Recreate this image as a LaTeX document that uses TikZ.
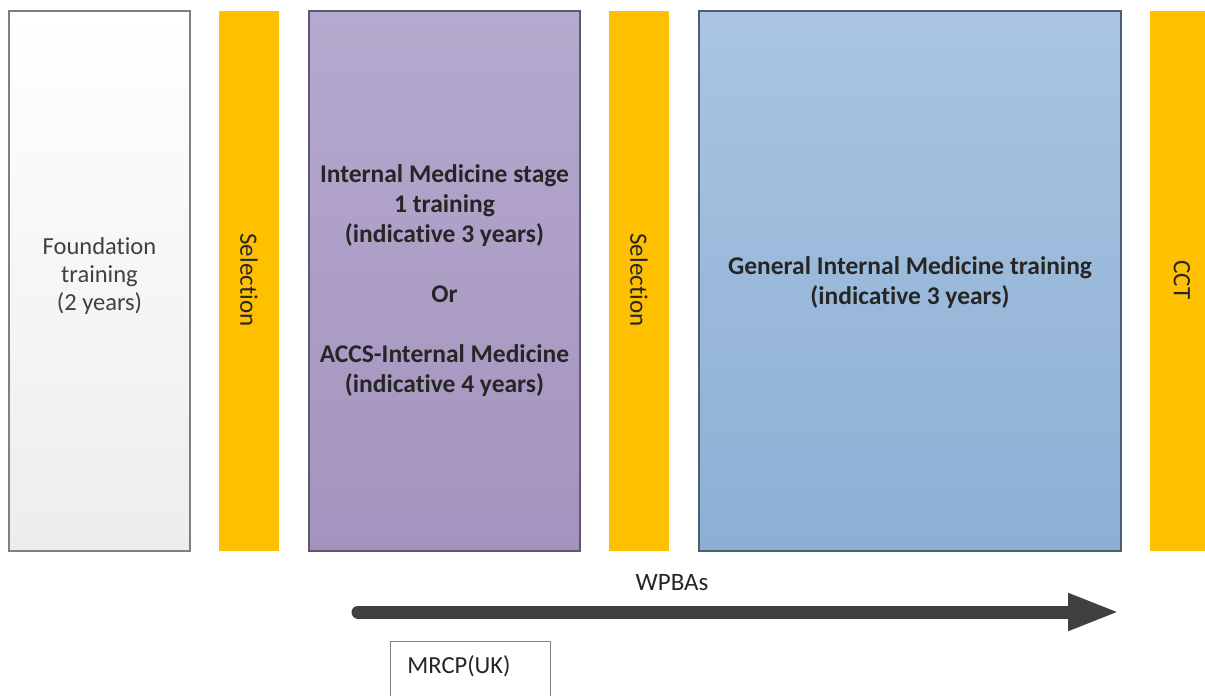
\documentclass[tikz,border=0pt]{standalone}
\usepackage{fontspec}
\setmainfont[Ligatures=NoCommon]{Carlito}
\usetikzlibrary{arrows.meta}
\definecolor{orangebar}{HTML}{FFC000}
\definecolor{fndtop}{HTML}{FFFFFF}
\definecolor{fndbot}{HTML}{EDEDED}
\definecolor{fndline}{HTML}{808080}
\definecolor{purtop}{HTML}{B5A9CE}
\definecolor{purbot}{HTML}{A493BE}
\definecolor{purline}{HTML}{5E5870}
\definecolor{blutop}{HTML}{A9C5E1}
\definecolor{blubot}{HTML}{8DAFD5}
\definecolor{bluline}{HTML}{4E5E72}
\definecolor{txt}{HTML}{262626}
\definecolor{arrowc}{HTML}{404040}
\tikzset{
  stagebox/.style={rectangle, inner sep=0pt, line width=1.2pt, align=center, text=txt},
  barbox/.style={rectangle, inner sep=0pt, fill=orangebar, minimum width=60pt, minimum height=540pt},
  bartext/.style={rotate=-90, text=txt, font=\fontsize{25}{28}\selectfont},
  boldtext/.style={font=\fontsize{25.5}{30}\selectfont\bfseries},
  regtext/.style={font=\fontsize{24.5}{28}\selectfont},
}
\begin{document}
\begin{tikzpicture}[x=1pt,y=-1pt]
\useasboundingbox (0,0) rectangle (1205,696);
% Foundation
\node[stagebox, draw=fndline, top color=fndtop, bottom color=fndbot,
      minimum width=181pt, minimum height=540pt] (fnd) at (99.5,281) {};
\node[regtext, align=center, text=arrowc] (fndt) at (99.5,276) {Foundation\\training\\(2 years)};
% Selection bar 1
\node[barbox] (sel1) at (249,281) {};
\node[bartext] (sel1t) at (249,280) {Selection};
% Purple
\node[stagebox, draw=purline, top color=purtop, bottom color=purbot,
      minimum width=271pt, minimum height=540pt] (im) at (444.5,281) {};
\node[boldtext, align=center, text=txt] (imt) at (444.5,281) {Internal Medicine stage\\1 training\\(indicative 3 years)\\[30pt]Or\\[30pt]ACCS-Internal Medicine\\(indicative 4 years)};
% Selection bar 2
\node[barbox] (sel2) at (639,281) {};
\node[bartext] (sel2t) at (639,280) {Selection};
% Blue
\node[stagebox, draw=bluline, top color=blutop, bottom color=blubot,
      minimum width=422pt, minimum height=540pt] (gim) at (910,281) {};
\node[boldtext, align=center, text=txt] (gimt) at (910,283) {General Internal Medicine training\\(indicative 3 years)};
% CCT bar
\node[barbox] (cct) at (1180,281) {};
\node[bartext] (cctt) at (1182,280) {CCT};
% WPBAs arrow
\coordinate (a0) at (358,612);
\coordinate (a1) at (1120,612);
\draw[arrowc, line width=13pt, line cap=round,
      -{Triangle[length=52pt,width=34pt]}] (a0) -- (a1);
\node[font=\fontsize{25}{28}\selectfont, text=txt] (wpba) at (672,583) {WPBAs};
% MRCP box
\node[rectangle, draw=fndline, fill=white, line width=1pt, minimum width=160pt, minimum height=62pt, inner sep=0pt] (mrcp) at (470,672) {};
\node[regtext, text=txt] (mrcpt) at (459,666) {MRCP(UK)};
\end{tikzpicture}
\end{document}
